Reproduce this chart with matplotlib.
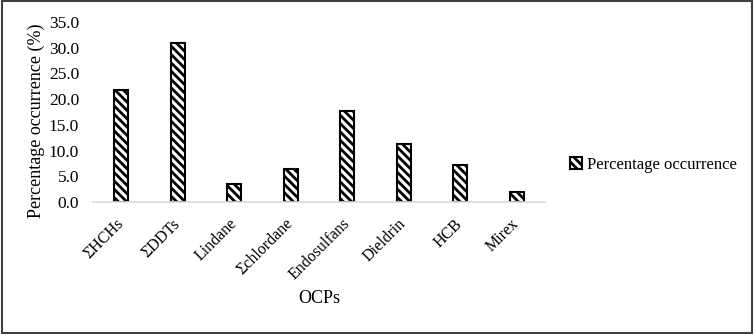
import numpy as np
import matplotlib.pyplot as plt

# OCP categories and percentage occurrence
ocps = ['ΣHCHs', 'ΣDDTs', 'Lindane', 'Σchlordane', 'Endosulfans', 'Dieldrin', 'HCB', 'Mirex']
occurrence = [21.8, 31.0, 3.5, 6.4, 17.6, 11.2, 7.1, 2.0]
yticks = [0, 5, 10, 15, 20, 25, 30, 35]

plt.rcParams['font.family'] = ['Liberation Serif', 'DejaVu Serif']
plt.rcParams['hatch.linewidth'] = 2.0
plt.rcParams['hatch.color'] = 'black'

fig = plt.figure(figsize=(7.54, 3.34), dpi=100)
ax = fig.add_axes([93 / 754, 1 - 202 / 334, (545 - 93) / 754, 180 / 334])

x = np.arange(len(ocps))
ax.bar(x, occurrence, width=0.25, facecolor='white', edgecolor='black',
       linewidth=1.5, hatch='\\\\\\\\', label='Percentage occurrence')

ax.set_xlim(-0.5, len(ocps) - 0.5)
ax.set_ylim(0, 35)
ax.set_yticks(yticks)
ax.set_yticklabels([f'{v:.1f}' for v in yticks], fontsize=12.5)
ax.set_xticks(x)
ax.set_xticklabels(ocps, rotation=45, ha='right', va='center',
                   rotation_mode='anchor', fontsize=11.5)
ax.tick_params(length=0)
ax.tick_params(axis='y', pad=10)
ax.tick_params(axis='x', pad=14)

for side in ['top', 'right', 'left']:
    ax.spines[side].set_visible(False)
ax.spines['bottom'].set_color('#d9d9d9')
ax.spines['bottom'].set_linewidth(1.2)

ax.set_ylabel('Percentage occurrence (%)', fontsize=13)
ax.yaxis.set_label_coords(-48 / 452, 0.45)
ax.set_xlabel('OCPs', fontsize=13, labelpad=5)

ax.legend(loc='center left', bbox_to_anchor=(555 / 754, 1 - 165 / 334),
          bbox_transform=fig.transFigure, frameon=False, fontsize=12,
          handlelength=0.7, handleheight=0.7, handletextpad=0.3)

fig.add_artist(plt.Rectangle((0.002, 0.003), 0.996, 0.994, transform=fig.transFigure,
                             fill=False, edgecolor='#404040', linewidth=1.5))

fig.savefig('out.png', dpi=100)
